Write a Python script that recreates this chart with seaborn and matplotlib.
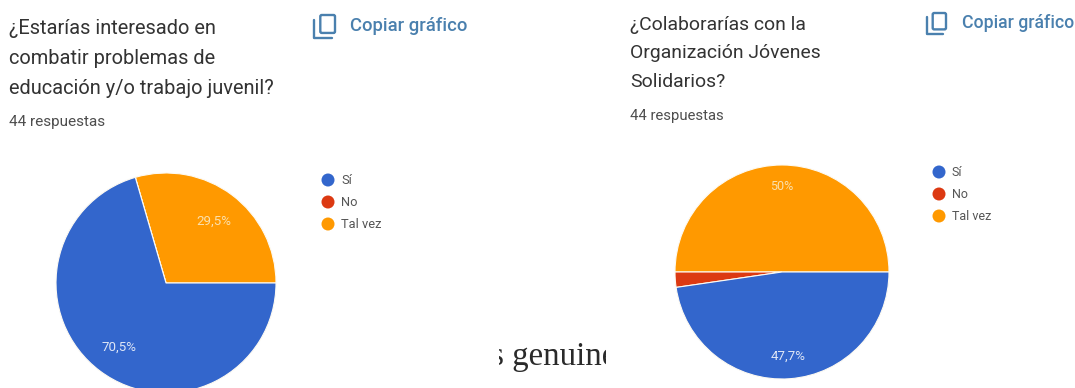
import matplotlib
matplotlib.use("Agg")
import matplotlib.pyplot as plt
from matplotlib.patches import Rectangle, FancyBboxPatch, Circle
import seaborn as sns

sns.set_theme(style="white")
plt.rcParams["font.family"] = ["Roboto", "DejaVu Sans"]

W, H = 1075, 388

# Survey results, listed counter-clockwise from the east edge of each pie
categories = ["Tal vez", "No", "Sí"]
legend_order = ["Sí", "No", "Tal vez"]
left_values = [29.5, 0.0, 70.5]
right_values = [50.0, 2.3, 47.7]
left_labels = ["29,5%", "70,5%"]
right_labels = ["50%", "47,7%"]
left_title = ["¿Estarías interesado en", "combatir problemas de", "educación y/o trabajo juvenil?"]
right_title = ["¿Colaborarías con la", "Organización Jóvenes", "Solidarios?"]
responses = "44 respuestas"
copy_label = "Copiar gráfico"
palette = {"Sí": "#3366cc", "No": "#dc3912", "Tal vez": "#ff9900"}

fig = plt.figure(figsize=(W / 100, H / 100), dpi=100, facecolor="white")

# Overlay in pixel coordinates for the surrounding form text
page = fig.add_axes([0, 0, 1, 1], zorder=3)
page.set_xlim(0, W)
page.set_ylim(H, 0)
page.axis("off")
page.patch.set_alpha(0)


def draw_pie(values, cx, cy, r):
    ax = fig.add_axes([(cx - r) / W, 1 - (cy + r) / H, 2 * r / W, 2 * r / H])
    colors = [palette[c] for c in categories]
    ax.pie(values, colors=colors, startangle=0, counterclock=True, radius=1,
           wedgeprops={"linewidth": 0.8, "edgecolor": "#fdfaf2"})
    ax.set_xlim(-1, 1)
    ax.set_ylim(-1, 1)
    return ax


def draw_block(title, x, title_y, step, title_size, resp_y, resp_size,
               icon_x, icon_y, icon_w, icon_h, copy_x, copy_y, copy_size,
               leg_x, leg_y, leg_size):
    for i, line in enumerate(title):
        page.text(x, title_y + i * step, line, fontsize=title_size, color="#333333",
                  va="center", ha="left")
    page.text(x, resp_y, responses, fontsize=resp_size, color="#4d4d4d", va="center", ha="left")
    # Copy icon: a front sheet with the corner of a second one behind it
    page.add_patch(FancyBboxPatch((icon_x + icon_w * 0.3, icon_y), icon_w * 0.7, icon_h * 0.78,
                                  boxstyle="round,pad=0,rounding_size=1.5",
                                  fill=False, ec="#4a80ae", lw=1.7))
    page.plot([icon_x, icon_x, icon_x + icon_w * 0.85],
              [icon_y + icon_h * 0.2, icon_y + icon_h, icon_y + icon_h],
              color="#4a80ae", lw=1.7, solid_capstyle="round")
    page.text(copy_x, copy_y, copy_label, fontsize=copy_size, color="#4a80ae",
              va="center", ha="left", fontweight="medium")
    for i, name in enumerate(legend_order):
        y = leg_y + i * 22
        page.add_patch(Circle((leg_x, y), 6.5, color=palette[name], lw=0))
        page.text(leg_x + 13, y, name, fontsize=leg_size, color="#555555", va="center", ha="left")


draw_pie(left_values, 166, 283, 110)
draw_pie(right_values, 782, 272, 107)

draw_block(left_title, 9, 28, 30, 14.4, 122, 11.0,
           314, 15, 21, 23, 350, 26, 13.3, 328, 180, 9.3)
draw_block(right_title, 630, 25, 28.5, 13.95, 116, 10.7,
           927, 13, 19, 21, 962, 23, 12.7, 939, 172, 9.0)

# Percentage labels on the slices
page.text(213.5, 221, left_labels[0], color="#fbe0ad", fontsize=9.6, ha="center", va="center")
page.text(119, 347, left_labels[1], color="#dfe6f6", fontsize=9.6, ha="center", va="center")
page.text(782, 187, right_labels[0], color="#fbe0ad", fontsize=9.0, ha="center", va="center")
page.text(788, 356, right_labels[1], color="#dfe6f6", fontsize=9.6, ha="center", va="center")

# Fragment of body text cut off on both sides
frag = page.text(482.5, 365, "is genuine", family="Liberation Serif", fontsize=23.7,
                 color="#2a2a2a", va="baseline", ha="left")
clip = Rectangle((499, 330), 107, 50, transform=page.transData)
frag.set_clip_path(clip)
frag.set_clip_on(True)

fig.savefig("out.png", dpi=100, facecolor="white")
